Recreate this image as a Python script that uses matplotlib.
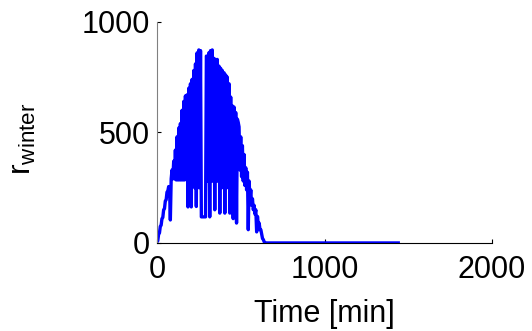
import matplotlib
matplotlib.use("Agg")
import matplotlib.pyplot as plt

plt.rcParams['font.family'] = ['Liberation Sans', 'DejaVu Sans']
plt.rcParams['mathtext.fontset'] = 'custom'
plt.rcParams['mathtext.rm'] = 'Liberation Sans'

# r_winter sampled every 5 min from 0 to 650 min (read off the picture),
# then 0 until the end of the day
r_day = [5, 10, 40, 45, 75, 80, 110, 115, 150, 155,
         190, 195, 230, 235, 255, 250, 104, 290, 330, 290,
         370, 290, 420, 285, 480, 285, 520, 285, 540, 285,
         600, 285, 640, 285, 665, 290, 670, 163, 700, 260,
         720, 163, 740, 260, 780, 250, 810, 165, 860, 250,
         873, 250, 870, 118, 118, 118, 118, 118, 118, 845,
         845, 280, 860, 118, 870, 280, 873, 280, 835, 150,
         830, 280, 830, 280, 800, 135, 790, 250, 780, 250,
         770, 135, 760, 250, 750, 250, 720, 135, 660, 200,
         620, 110, 615, 200, 590, 90, 560, 545, 525, 330,
         480, 300, 440, 280, 400, 260, 340, 240, 320, 60,
         280, 200, 240, 170, 200, 150, 170, 130, 150, 50,
         120, 80, 90, 60, 60, 40, 20, 15, 5, 0,
         0]
t_step = 5
t_end = 1440

t = [i * t_step for i in range(len(r_day))] + [t_end]
r_winter = r_day + [0]

fig = plt.figure(figsize=(5.32, 3.31), dpi=100)
ax = fig.add_axes([0.295, 0.266, 0.63, 0.668])

ax.plot(t, r_winter, color='#0000ff', lw=2.4)

ax.set_xlim(0, 2000)
ax.set_ylim(0, 1000)
ax.set_xticks([0, 1000, 2000])
ax.set_yticks([0, 500, 1000])
ax.tick_params(direction='in', length=3, labelsize=22)
ax.tick_params(axis='x', pad=9)
ax.tick_params(axis='y', pad=5)

ax.spines['top'].set_visible(False)
ax.spines['right'].set_visible(False)
ax.spines['left'].set_color('#808080')
ax.spines['bottom'].set_color('black')

ax.set_xlabel('Time [min]', fontsize=22)
ax.xaxis.set_label_coords(0.5, -0.255)
ax.set_ylabel(r'r$_{\rm winter}$', fontsize=23)
ax.yaxis.set_label_coords(-0.355, 0.47)

fig.savefig('out.png', dpi=100)
